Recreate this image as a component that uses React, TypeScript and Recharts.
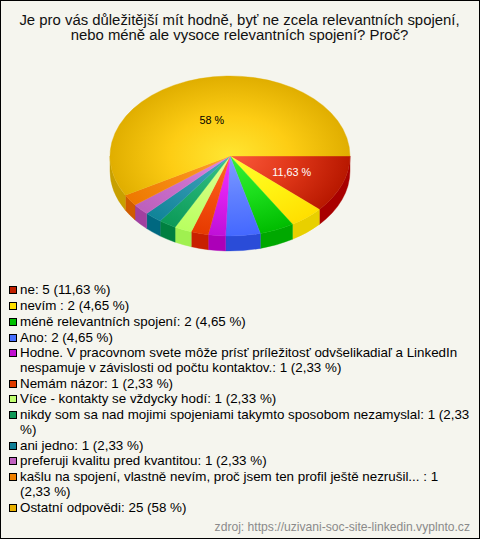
// App.tsx
import { PieChart, Pie, Cell, Legend } from "recharts";

const WIDTH = 480;
const HEIGHT = 539;

const titleLines = [
  "Je pro vás důležitější mít hodně, byť ne zcela relevantních spojení,",
  "nebo méně ale vysoce relevantních spojení? Proč?",
];
const categories = [
  "ne",
  "nevím ",
  "méně relevantních spojení",
  "Ano",
  "Hodne. V pracovnom svete môže prísť príležitosť odvšelikadiaľ a LinkedIn nespamuje v závislosti od počtu kontaktov.",
  "Nemám názor",
  "Více - kontakty se vždycky hodí",
  "nikdy som sa nad mojimi spojeniami takymto sposobom nezamyslal",
  "ani jedno",
  "preferuji kvalitu pred kvantitou",
  "kašlu na spojení, vlastně nevím, proč jsem ten profil ještě nezrušil... ",
  "Ostatní odpovědi",
];
const counts = [5, 2, 2, 2, 1, 1, 1, 1, 1, 1, 1, 25];
const percentLabels = ["11,63", "4,65", "4,65", "4,65", "2,33", "2,33", "2,33", "2,33", "2,33", "2,33", "2,33", "58"];

const innerColors = ["#fb5a3c", "#ffff30", "#38f038", "#7f9fff", "#ee38ff", "#ff6a28", "#e0ff98", "#38c488", "#48a4c0", "#e088e4", "#ffa030", "#ffe632"];
const midColors = ["#e2391a", "#fff414", "#1cde1c", "#6080ff", "#dc20ee", "#f45010", "#ccff78", "#20ae70", "#2c94ac", "#cc70cc", "#f68c14", "#fdcd14"];
const outerColors = ["#b81800", "#ffdf00", "#00bc00", "#4468ff", "#c010d8", "#e63a00", "#b8ff60", "#0c9a58", "#108498", "#bc60bc", "#ee7800", "#e0ae00"];
const wallColors = ["#a80000", "#e8d000", "#00a800", "#2a4cd8", "#ac00b8", "#c82000", "#a0f050", "#008040", "#006880", "#a040a0", "#d05c00", "#c8a000"];
const legendColors = ["#c02000", "#ffe000", "#00c000", "#4870ff", "#c010d0", "#e03c00", "#c0ff70", "#109858", "#108098", "#c060c0", "#f08000", "#e8b000"];

const data = categories.map((name, i) => ({ name, value: counts[i] }));

const SQUASH = 2 / 3;
const DEPTH = 15;
const CX = 230;
const CY = 156;
const RADIUS = 120;

function ellipsePoint(cx: number, cy: number, r: number, deg: number) {
  const rad = (deg * Math.PI) / 180;
  return [cx + r * Math.cos(rad), cy + r * SQUASH * Math.sin(rad)];
}

// top face of a slice, the library's circle squashed to an ellipse
function TopSlice(props: any) {
  const { cx, cy, outerRadius, startAngle, endAngle, fill } = props;
  const a1 = -startAngle;
  const a2 = -endAngle;
  const [x1, y1] = ellipsePoint(cx, cy, outerRadius, a1);
  const [x2, y2] = ellipsePoint(cx, cy, outerRadius, a2);
  const large = a2 - a1 > 180 ? 1 : 0;
  const d = `M${cx},${cy} L${x1},${y1} A${outerRadius},${outerRadius * SQUASH} 0 ${large} 1 ${x2},${y2} Z`;
  return (
    <g>
      <path d={d} fill={fill} stroke={fill} strokeWidth={0.4} />
      {a1 === 0 && <line x1={cx} y1={cy - 0.5} x2={x1} y2={cy - 0.5} stroke="url(#seam)" strokeWidth={1} />}
    </g>
  );
}

// side wall, only the part facing the viewer
function WallSlice(props: any) {
  const { cx, cy, outerRadius, startAngle, endAngle, fill } = props;
  const a1 = Math.max(-startAngle, 0);
  const a2 = Math.min(-endAngle, 180);
  if (a2 <= a1) return <g />;
  const [x1, y1] = ellipsePoint(cx, cy, outerRadius, a1);
  const [x2, y2] = ellipsePoint(cx, cy, outerRadius, a2);
  const rx = outerRadius;
  const ry = outerRadius * SQUASH;
  const d = `M${x1},${y1} A${rx},${ry} 0 0 1 ${x2},${y2} L${x2},${y2 + DEPTH} A${rx},${ry} 0 0 0 ${x1},${y1 + DEPTH} Z`;
  return <path d={d} fill={fill} stroke={fill} strokeWidth={0.4} />;
}

function sliceLabel(props: any) {
  const { cx, cy, outerRadius, midAngle, index } = props;
  if (counts[index] < 5) return null;
  const big = counts[index] > 5;
  const [x, y] = ellipsePoint(cx, cy, outerRadius * (big ? 0.47 : 0.55), -midAngle);
  return (
    <text
      x={big ? x - 4 : x}
      y={y}
      textAnchor="middle"
      dominantBaseline="central"
      fontFamily="Liberation Sans"
      fontSize={10.8}
      fill={big ? "#000000" : "#ffffff"}
    >
      {percentLabels[index]} %
    </text>
  );
}

function LegendList() {
  return (
    <div style={{ fontFamily: "Liberation Sans", fontSize: 13.36, lineHeight: "14.4px", color: "#000" }}>
      {categories.map((name, i) => (
        <div key={i} style={{ paddingLeft: 11, marginBottom: 1.45, position: "relative" }}>
          <span
            style={{
              position: "absolute",
              left: 0,
              top: 3,
              width: 6,
              height: 6,
              border: "1px solid #000",
              background: legendColors[i],
            }}
          />
          {name}: {counts[i]} ({percentLabels[i]} %)
        </div>
      ))}
    </div>
  );
}

export default function App() {
  return (
    <div
      style={{
        position: "absolute",
        left: 0,
        top: 0,
        width: WIDTH,
        height: HEIGHT,
        boxSizing: "border-box",
        border: "1px solid #000",
        background: "#f5f5ee",
        overflow: "hidden",
      }}
    >
      <style>{`body{margin:0}`}</style>
      <PieChart width={WIDTH - 2} height={HEIGHT - 2} margin={{ top: 0, right: 0, bottom: 0, left: 0 }}>
        <defs>
          {categories.map((_, i) => (
            <radialGradient
              key={i}
              id={`slice${i}`}
              gradientUnits="userSpaceOnUse"
              cx={0}
              cy={0}
              r={1}
              gradientTransform={`translate(${CX - 1} ${CY - 1}) scale(${RADIUS} ${RADIUS * SQUASH})`}
            >
              <stop offset="0%" stopColor={innerColors[i]} />
              <stop offset="50%" stopColor={midColors[i]} />
              <stop offset="100%" stopColor={outerColors[i]} />
            </radialGradient>
          ))}
          <linearGradient id="seam" gradientUnits="userSpaceOnUse" x1={CX} y1={0} x2={CX + RADIUS} y2={0}>
            <stop offset="0%" stopColor="#ffffff" stopOpacity={0} />
            <stop offset="100%" stopColor="#ffffff" stopOpacity={0.85} />
          </linearGradient>
        </defs>
        <Pie
          data={data}
          dataKey="value"
          cx={CX - 1}
          cy={CY - 1}
          outerRadius={RADIUS}
          startAngle={0}
          endAngle={-360}
          stroke="none"
          shape={WallSlice}
          isAnimationActive={false}
        >
          {categories.map((_, i) => (
            <Cell key={i} fill={wallColors[i]} />
          ))}
        </Pie>
        <Pie
          data={data}
          dataKey="value"
          cx={CX - 1}
          cy={CY - 1}
          outerRadius={RADIUS}
          startAngle={0}
          endAngle={-360}
          stroke="none"
          shape={TopSlice}
          label={sliceLabel}
          labelLine={false}
          isAnimationActive={false}
        >
          {categories.map((_, i) => (
            <Cell key={i} fill={`url(#slice${i})`} />
          ))}
        </Pie>
        <text x={239} textAnchor="middle" fontFamily="Liberation Sans" fontSize={14.9} fill="#111">
          <tspan x={238.5} y={24}>{titleLines[0]}</tspan>
          <tspan x={238.5} y={39}>{titleLines[1]}</tspan>
        </text>
        <Legend
          layout="vertical"
          content={LegendList}
          wrapperStyle={{ position: "absolute", left: 8, top: 282, width: 462, bottom: "auto", margin: 0 }}
        />
        <text x={469} y={530} textAnchor="end" fontFamily="Liberation Sans" fontSize={12.13} fill="#8a8a8a">
          zdroj: https://uzivani-soc-site-linkedin.vyplnto.cz
        </text>
      </PieChart>
    </div>
  );
}
